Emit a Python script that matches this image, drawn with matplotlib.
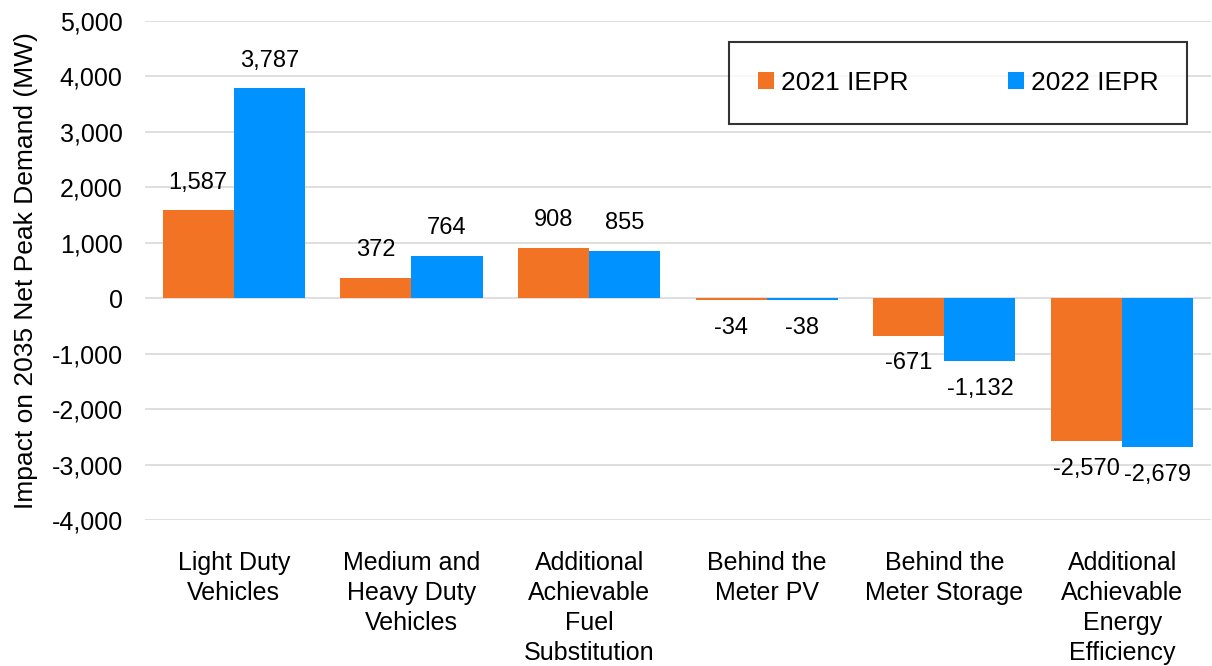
import numpy as np
import matplotlib
matplotlib.use('Agg')
import matplotlib.pyplot as plt
from matplotlib.ticker import FuncFormatter

plt.rcParams['font.family'] = ['Liberation Sans', 'DejaVu Sans']

categories = ['Light Duty\nVehicles', 'Medium and\nHeavy Duty\nVehicles',
              'Additional\nAchievable\nFuel\nSubstitution', 'Behind the\nMeter PV',
              'Behind the\nMeter Storage', 'Additional\nAchievable\nEnergy\nEfficiency']
iepr_2021 = [1587, 372, 908, -34, -671, -2570]
iepr_2022 = [3787, 764, 855, -38, -1132, -2679]
series_names = ['2021 IEPR', '2022 IEPR']

orange = '#F17323'
blue = '#0092FF'

fig = plt.figure(figsize=(12.12, 6.66), dpi=100)
ax = fig.add_axes([0.1196, 0.219, 0.8795, 0.7495])

x = np.arange(len(categories))
w = 0.4
b1 = ax.bar(x - w / 2, iepr_2021, w, color=orange, label=series_names[0], zorder=3)
b2 = ax.bar(x + w / 2, iepr_2022, w, color=blue, label=series_names[1], zorder=3)

# value labels above positive bars, below negative ones
for bars, vals in [(b1, iepr_2021), (b2, iepr_2022)]:
    for r, v in zip(bars, vals):
        off = 12 if v >= 0 else -12
        ax.annotate(f'{v:,}', (r.get_x() + r.get_width() / 2, v),
                    xytext=(0, off), textcoords='offset points',
                    ha='center', va='bottom' if v >= 0 else 'top', fontsize=17)

ax.set_xlim(-0.5, len(categories) - 0.5)
ax.set_ylim(-4000, 5000)
ax.set_yticks(np.arange(-4000, 5001, 1000))
ax.yaxis.set_major_formatter(FuncFormatter(lambda v, p: f'{int(v):,}'))
ax.set_xticks(x)
ax.set_xticklabels(categories, fontsize=18, linespacing=1.32)
ax.tick_params(axis='x', length=0, pad=22)
ax.tick_params(axis='y', length=0, pad=16, labelsize=18)
ax.grid(axis='y', color='#D9D9D9', linewidth=1.2, zorder=0)
for s in ax.spines.values():
    s.set_visible(False)
ax.set_ylabel('Impact on 2035 Net Peak Demand (MW)', fontsize=19, labelpad=10)

leg = ax.legend(loc='upper right', bbox_to_anchor=(0.978, 0.958), ncol=2,
                fontsize=19, frameon=True, fancybox=False, edgecolor='black',
                handlelength=0.6, handleheight=0.6, handletextpad=0.25,
                columnspacing=3.8, borderpad=1.1, borderaxespad=0)
leg.get_frame().set_linewidth(1.5)

fig.savefig('out.png', dpi=100)
